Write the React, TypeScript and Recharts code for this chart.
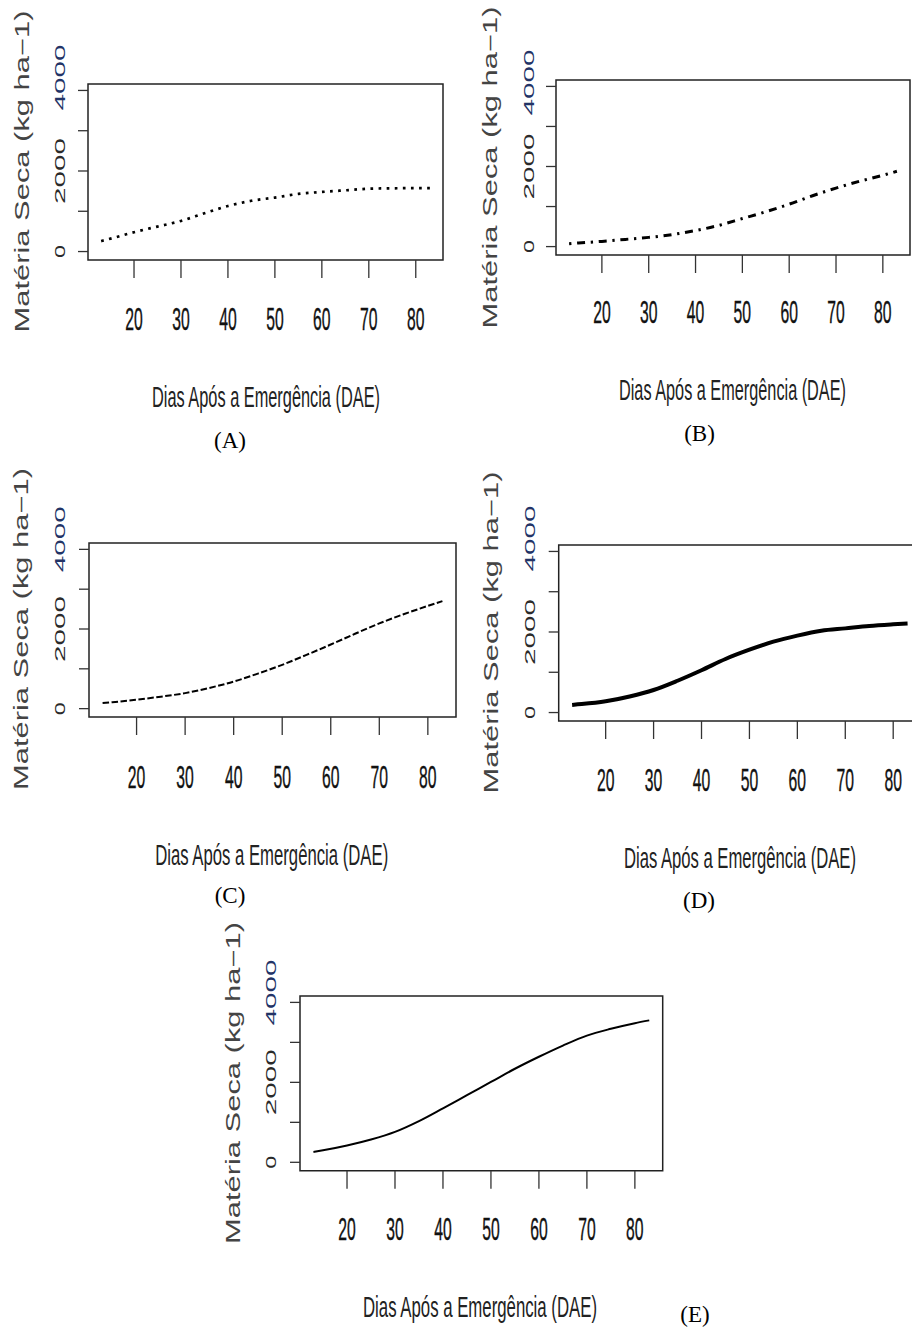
import React from 'react';
import { LineChart, Line, XAxis, YAxis, ReferenceArea } from 'recharts';

// ---- Data ----
const DAYS = [13, 15, 20, 25, 30, 35, 40, 45, 50, 55, 60, 65, 70, 75, 80, 83];
const SERIES_A = [260, 320, 480, 620, 760, 950, 1130, 1260, 1340, 1430, 1480, 1520, 1560, 1570, 1575, 1575];
const SERIES_B = [70, 90, 130, 180, 230, 300, 400, 530, 700, 870, 1060, 1270, 1460, 1630, 1780, 1880];
const SERIES_C = [140, 160, 225, 300, 390, 520, 680, 880, 1100, 1350, 1610, 1880, 2140, 2370, 2580, 2700];
const SERIES_D = [190, 210, 280, 400, 560, 790, 1050, 1330, 1560, 1760, 1910, 2030, 2090, 2150, 2190, 2210];
const SERIES_E = [260, 300, 420, 570, 760, 1030, 1350, 1680, 2010, 2340, 2640, 2920, 3170, 3340, 3480, 3550];

const X_TICKS = [20, 30, 40, 50, 60, 70, 80];
const Y_TICKS = [0, 1000, 2000, 3000, 4000];
const Y_LABELED = [0, 2000, 4000];
const X_TITLE = 'Dias Após a Emergência (DAE)';
const Y_TITLE = 'Matéria Seca (kg ha−1)';
const PANEL_TAGS = ['(A)', '(B)', '(C)', '(D)', '(E)'];

// ---- Layout ----
const W = 930;
const H = 1327;
const AX = 2; // axis band thickness used by recharts
const X_DOMAIN: [number, number] = [10.2, 85.8];
const Y_DOMAIN: [number, number] = [-210, 4160];
const SANS = '"Liberation Sans", Arial, sans-serif';
const SERIF = '"Liberation Serif", "Times New Roman", serif';

type Cfg = {
  values: number[];
  box: { L: number; R: number; T: number; B: number };
  lineWidth: number;
  dash?: string;
  yLabelX: number;
  off4000: number;
  yTitle: { x: number; y: number };
  xTickY: number;
  xTitle: { x: number; y: number; len: number };
  tag: { x: number; y: number };
};

const PANELS: Cfg[] = [
  {
    values: SERIES_A,
    box: { L: 88, R: 443, T: 84, B: 260 },
    lineWidth: 2.7,
    dash: '2.7 5.4',
    yLabelX: 59,
    off4000: -13,
    yTitle: { x: 22, y: 171.5 },
    xTickY: 318.5,
    xTitle: { x: 266, y: 407, len: 228 },
    tag: { x: 230, y: 448 },
  },
  {
    values: SERIES_B,
    box: { L: 556, R: 910, T: 80, B: 255 },
    lineWidth: 3,
    dash: '2.3 5.7 8 5.7',
    yLabelX: 528,
    off4000: -4,
    yTitle: { x: 490, y: 167.5 },
    xTickY: 311.7,
    xTitle: { x: 732.5, y: 400, len: 227 },
    tag: { x: 699.5, y: 441 },
  },
  {
    values: SERIES_C,
    box: { L: 89, R: 456, T: 543, B: 717 },
    lineWidth: 2,
    dash: '6.5 2.5',
    yLabelX: 59,
    off4000: -10,
    yTitle: { x: 21, y: 629 },
    xTickY: 776,
    xTitle: { x: 271.7, y: 865, len: 233 },
    tag: { x: 230, y: 903 },
  },
  {
    values: SERIES_D,
    box: { L: 558.7, R: 921, T: 545, B: 721 },
    lineWidth: 4,
    yLabelX: 529,
    off4000: -13,
    yTitle: { x: 491, y: 632.5 },
    xTickY: 779,
    xTitle: { x: 740, y: 868, len: 232 },
    tag: { x: 699, y: 908 },
  },
  {
    values: SERIES_E,
    box: { L: 300, R: 662.7, T: 996, B: 1170.7 },
    lineWidth: 2,
    yLabelX: 270,
    off4000: -10,
    yTitle: { x: 232.5, y: 1083 },
    xTickY: 1228.5,
    xTitle: { x: 480, y: 1317, len: 234 },
    tag: { x: 695, y: 1322 },
  },
];

function makeXTick(ty: number) {
  return function XTick(props: any) {
    const { x, payload } = props;
    return (
      <text
        x={x}
        y={ty + 11.5}
        textAnchor="middle"
        fontFamily={SANS}
        fontSize={32}
        textLength={17.5}
        lengthAdjust="spacingAndGlyphs"
        fill="#111"
        stroke="#111"
        strokeWidth={0.4}
      >
        {String(payload.value)}
      </text>
    );
  };
}

function makeYTick(lx: number, off: number) {
  return function YTick(props: any) {
    const { y, payload } = props;
    const v = payload.value;
    if (!Y_LABELED.includes(v)) return <g />;
    const cy = y + (v === 4000 ? off : 0);
    return (
      <text
        transform={`translate(${lx},${cy}) rotate(-90)`}
        textAnchor="middle"
        dy="0.36em"
        fontFamily={SANS}
        fontSize={15.5}
        textLength={v === 0 ? 13 : 66}
        lengthAdjust="spacingAndGlyphs"
        fill={v === 4000 ? '#223366' : '#2a2a2a'}
      >
        {String(v)}
      </text>
    );
  };
}

function Panel({ cfg }: { cfg: Cfg }) {
  const data = DAYS.map((d, i) => ({ d, v: cfg.values[i] }));
  const { L, R, T, B } = cfg.box;
  return (
    <div style={{ position: 'absolute', left: 0, top: 0 }}>
      <LineChart
        width={W}
        height={H}
        data={data}
        margin={{ left: L - AX, right: W - R, top: T, bottom: H - B - AX }}
      >
        <XAxis
          dataKey="d"
          type="number"
          domain={X_DOMAIN}
          ticks={X_TICKS}
          allowDataOverflow
          interval={0}
          height={AX}
          axisLine={false}
          tickSize={18}
          tickMargin={2}
          tickLine={{ stroke: '#333', strokeWidth: 1.3 }}
          tick={makeXTick(cfg.xTickY)}
        />
        <YAxis
          type="number"
          domain={Y_DOMAIN}
          ticks={Y_TICKS}
          allowDataOverflow
          interval={0}
          width={AX}
          axisLine={false}
          tickSize={10}
          tickMargin={2}
          tickLine={{ stroke: '#333', strokeWidth: 1.3 }}
          tick={makeYTick(cfg.yLabelX, cfg.off4000)}
        />
        <ReferenceArea
          x1={X_DOMAIN[0]}
          x2={X_DOMAIN[1]}
          y1={Y_DOMAIN[0]}
          y2={Y_DOMAIN[1]}
          fill="none"
          fillOpacity={0}
          stroke="#222"
          strokeWidth={1.5}
          ifOverflow="visible"
        />
        <Line
          dataKey="v"
          type="monotone"
          stroke="#000"
          strokeWidth={cfg.lineWidth}
          strokeDasharray={cfg.dash}
          strokeLinecap="butt"
          dot={false}
          activeDot={false}
          isAnimationActive={false}
        />
      </LineChart>
    </div>
  );
}

export default function App() {
  return (
    <div
      style={{
        position: 'absolute',
        left: 0,
        top: 0,
        width: 912,
        height: 1327,
        overflow: 'hidden',
        background: '#fff',
      }}
    >
      {PANELS.map((cfg, i) => (
        <Panel key={i} cfg={cfg} />
      ))}
      <svg
        width={912}
        height={1327}
        style={{ position: 'absolute', left: 0, top: 0, pointerEvents: 'none' }}
      >
        {PANELS.map((cfg, i) => (
          <g key={i}>
            <text
              transform={`translate(${cfg.yTitle.x},${cfg.yTitle.y}) rotate(-90)`}
              textAnchor="middle"
              dy="0.36em"
              fontFamily={SANS}
              fontSize={19.5}
              textLength={322}
              lengthAdjust="spacingAndGlyphs"
              fill="#444"
            >
              {Y_TITLE}
            </text>
            <text
              x={cfg.xTitle.x}
              y={cfg.xTitle.y}
              textAnchor="middle"
              fontFamily={SANS}
              fontSize={30}
              textLength={cfg.xTitle.len}
              lengthAdjust="spacingAndGlyphs"
              fill="#222"
            >
              {X_TITLE}
            </text>
            <text
              x={cfg.tag.x}
              y={cfg.tag.y}
              textAnchor="middle"
              fontFamily={SERIF}
              fontSize={23}
              fill="#000"
            >
              {PANEL_TAGS[i]}
            </text>
          </g>
        ))}
      </svg>
    </div>
  );
}
